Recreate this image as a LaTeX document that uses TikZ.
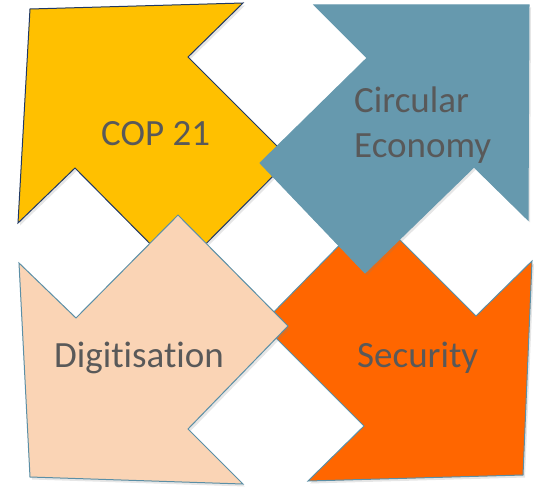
\documentclass[tikz,border=0pt]{standalone}
\usepackage{fontspec}
\setmainfont{Carlito}[Ligatures=NoCommon]
\usetikzlibrary{shadows}
\definecolor{cyellow}{HTML}{FFC000}
\definecolor{cnavy}{HTML}{203864}
\definecolor{cblue}{HTML}{6699AE}
\definecolor{cpeach}{HTML}{FAD4B5}
\definecolor{corange}{HTML}{FF6600}
\definecolor{cedge}{HTML}{5B8FA6}
\definecolor{ctext}{HTML}{595959}
\tikzset{
  arrowshape/.style={line width=1pt, line join=miter,
    drop shadow={opacity=0.2, shadow xshift=2pt, shadow yshift=-2.5pt}},
  lbl/.style={text=ctext, font=\fontsize{37}{45}\selectfont, inner sep=0pt, anchor=base west}
}
\begin{document}
\begin{tikzpicture}[x=1pt,y=-1pt]
\useasboundingbox (0,0) rectangle (535,487);
% COP 21 (yellow)
\draw[arrowshape, fill=cyellow, draw=cnavy]
  (30,9) -- (243,3) -- (188,57) -- (290,159) -- (178,272) -- (75,168) -- (18,223) -- cycle;
% Security (orange)
\draw[arrowshape, fill=corange, draw=cedge]
  (372,212) -- (476,316) -- (532,261) -- (523,475) -- (308,481) -- (364,426) -- (262,324) -- cycle;
% Circular Economy (blue)
\draw[arrowshape, fill=cblue, draw=cblue]
  (314,5) -- (529,5) -- (528,220) -- (474,167) -- (365,273) -- (260,163) -- (367,58) -- cycle;
% Digitisation (peach)
\draw[arrowshape, fill=cpeach, draw=cedge]
  (178,215) -- (288,326) -- (188,429) -- (243,484) -- (30,477) -- (19,263) -- (76,318) -- cycle;
\node[lbl] (cop) at (101,145) {COP 21};
\node[lbl] (circ) at (354,112) {Circular};
\node[lbl] (econ) at (354,157) {Economy};
\node[lbl] (digi) at (54,367) {Digitisation};
\node[lbl] (secu) at (357,367) {Security};
\end{tikzpicture}
\end{document}
